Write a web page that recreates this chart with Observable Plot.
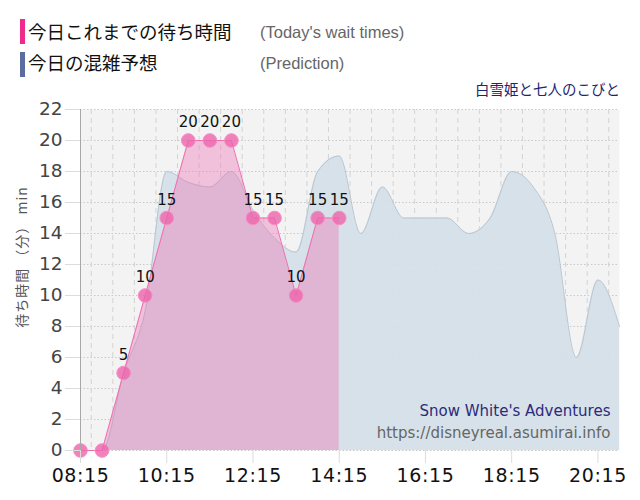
<!DOCTYPE html>
<html><head><meta charset="utf-8">
<script src="https://cdn.jsdelivr.net/npm/d3@7"></script>
<script src="https://cdn.jsdelivr.net/npm/@observablehq/plot@0.6"></script>
<style>
body{margin:0;background:#fff;}
#wrap{position:relative;width:640px;height:500px;overflow:hidden;background:#fff;}
.bar{position:absolute;left:20px;width:5px;height:25px;}
.jp{position:absolute;left:28px;font-family:"Noto Sans CJK JP",sans-serif;font-size:18.5px;color:#111;line-height:1;white-space:nowrap;}
.en{position:absolute;left:260px;font-family:"Liberation Sans",sans-serif;font-size:16.5px;color:#666;line-height:1;white-space:nowrap;}
#name{position:absolute;right:20px;top:82px;font-family:"Noto Sans CJK JP",sans-serif;font-size:14.5px;color:#1e2570;line-height:1;white-space:nowrap;}
#chart{position:absolute;left:0;top:80px;}
</style></head>
<body>
<div id="wrap">
  <div class="bar" style="top:19px;background:#ee2a8f"></div>
  <div class="jp" style="top:22px">今日これまでの待ち時間</div>
  <div class="en" style="top:24px">(Today's wait times)</div>
  <div class="bar" style="top:52px;background:#5b6c9e"></div>
  <div class="jp" style="top:53px">今日の混雑予想</div>
  <div class="en" style="top:55px">(Prediction)</div>
  <div id="name">白雪姫と七人のこびと</div>
  <div id="chart"></div>
</div>
<script>
// Today's actual wait times (every 30 minutes)
const actualTimes = ["08:15","08:45","09:15","09:45","10:15","10:45","11:15","11:45","12:15","12:45","13:15","13:45","14:15"];
const actualWaits = [0,0,5,10,15,20,20,20,15,15,10,15,15];

// Predicted wait times
const predTimes = ["08:15","08:45","09:15","09:45","10:15","10:45","11:15","11:45","12:15","12:45","13:15","13:45","14:15","14:45","15:15","15:45","16:15","16:45","17:15","17:45","18:15","18:45","19:15","19:45","20:15","20:45"];
const predWaits = [0,0,5,9,18,17.3,17,18,15.5,13.7,12.8,18,19,14,17,15,15,15,14,15,18,17,14,6,11,8];

const xTickLabels = ["08:15","10:15","12:15","14:15","16:15","18:15","20:15"];
const yTicks = [0,2,4,6,8,10,12,14,16,18,20,22];
const xStart = "08:15", xEnd = "20:45";
const yLabel = "待ち時間 （分） min";

const parse = d3.utcParse("%H:%M");
const actual = actualTimes.map((t,i)=>({t:parse(t), v:actualWaits[i]}));
const pred = predTimes.map((t,i)=>({t:parse(t), v:predWaits[i]}));
const gridTimes = d3.utcMinute.every(30).range(parse(xStart), d3.utcMinute.offset(parse(xEnd),1));

const chart = Plot.plot({
  width: 640, height: 420,
  marginLeft: 80, marginRight: 21, marginTop: 29, marginBottom: 50,
  style: {fontFamily: "DejaVu Sans, sans-serif", background: "transparent"},
  x: {type: "utc", domain: [parse(xStart), parse(xEnd)]},
  y: {domain: [0, 22]},
  marks: [
    Plot.frame({fill: "#f3f3f3", stroke: null}),
    Plot.ruleY(yTicks, {stroke: "#c9c9c9", strokeDasharray: "1.5,2"}),
    Plot.ruleX(gridTimes, {stroke: "#d3d3d3", strokeDasharray: "5,4"}),
    Plot.areaY(pred, {x: "t", y: "v", curve: "monotone-x", fill: "#d5e0e8", fillOpacity: 0.92}),
    Plot.lineY(pred, {x: "t", y: "v", curve: "monotone-x", stroke: "#b8c5d0", strokeWidth: 1}),
    Plot.areaY(actual, {x: "t", y: "v", fill: "#f06eb4", fillOpacity: 0.38}),
    Plot.lineY(actual, {x: "t", y: "v", stroke: "#f06eb0", strokeWidth: 1}),
    Plot.dot(actual, {x: "t", y: "v", r: 6.8, fill: "#ee64ab", fillOpacity: 0.8, stroke: "#f58cc3", strokeWidth: 1}),
    Plot.text(actual.filter(d => d.v > 0), {x: "t", y: "v", text: d => String(d.v), dy: -18, fontSize: 15, fill: "#111"}),
    Plot.ruleX([parse(xStart)], {stroke: "#a8a8a8"}),
    Plot.axisY({ticks: yTicks, tickSize: 15, tickPadding: 3, fontSize: 18.5, stroke: "#dcdcdc", fill: "#444", label: null}),
    Plot.axisX({ticks: xTickLabels.map(parse), tickFormat: d3.utcFormat("%H:%M"), tickSize: 13, tickPadding: 5, fontSize: 19, stroke: "#dcdcdc", fill: "#111", label: null}),
    Plot.text([yLabel], {frameAnchor: "left", textAnchor: "middle", dx: -58, dy: -23, rotate: -90, fontSize: 14, fill: "#555", fontFamily: "Noto Sans CJK JP"}),
    Plot.text(["Snow White's Adventures"], {frameAnchor: "bottom-right", dx: -9, dy: -35, textAnchor: "end", fontSize: 15, fill: "#2b2b7a"}),
    Plot.text(["https://disneyreal.asumirai.info"], {frameAnchor: "bottom-right", dx: -9, dy: -13, textAnchor: "end", fontSize: 15, fill: "#666"})
  ]
});
chart.querySelectorAll('[aria-label="x-axis tick label"] text').forEach(t => t.style.letterSpacing = "0.6px");
chart.querySelectorAll("text").forEach(t => { if (t.textContent === yLabel) t.style.letterSpacing = "1px"; });
document.getElementById("chart").appendChild(chart);
</script>
</body></html>
